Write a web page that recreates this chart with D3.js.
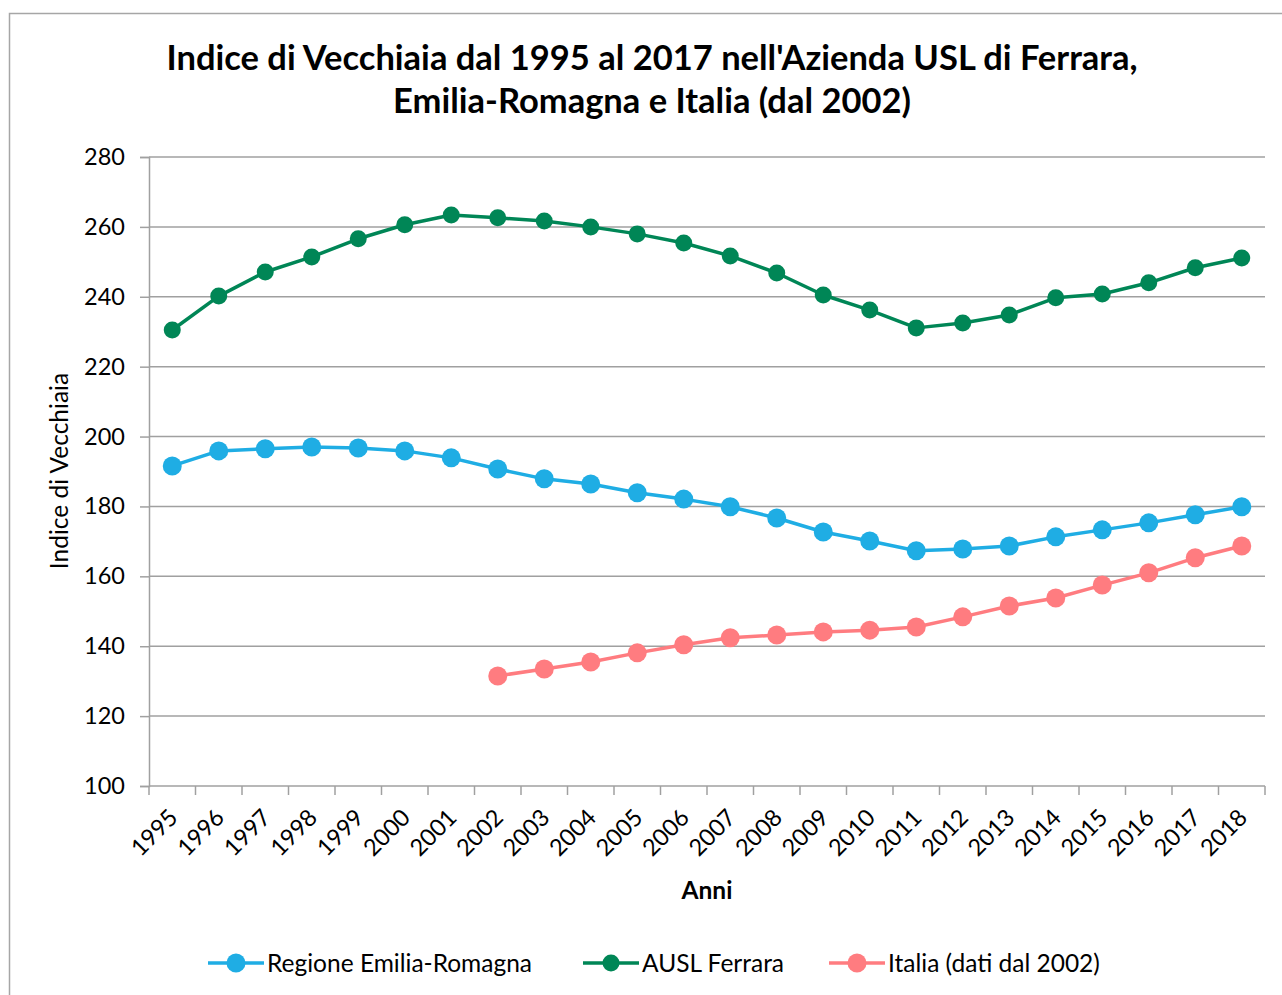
<!DOCTYPE html>
<html>
<head>
<meta charset="utf-8">
<script src="https://cdn.jsdelivr.net/npm/d3@7"></script>
<style>
  body { margin: 0; background: #fff; }
  svg { display: block; font-family: Lato, "Open Sans", sans-serif; }
</style>
</head>
<body>
<svg id="chart"></svg>
<script>
// years on the category axis
const years = ["1995","1996","1997","1998","1999","2000","2001","2002","2003","2004","2005","2006",
               "2007","2008","2009","2010","2011","2012","2013","2014","2015","2016","2017","2018"];

// Regione Emilia-Romagna
const emiliaRomagna = [191.6, 195.9, 196.5, 197.0, 196.7, 195.9, 193.9, 190.7, 187.9, 186.4, 183.9, 182.1,
                       179.9, 176.7, 172.7, 170.1, 167.3, 167.8, 168.7, 171.3, 173.3, 175.3, 177.6, 179.9];

// AUSL Ferrara
const auslFerrara = [230.5, 240.2, 247.1, 251.4, 256.6, 260.6, 263.4, 262.6, 261.7, 260.0, 258.0, 255.4,
                     251.7, 246.8, 240.5, 236.2, 231.1, 232.5, 234.8, 239.7, 240.8, 244.0, 248.3, 251.1];

// Italia, only from 2002 (null before)
const italia = [null, null, null, null, null, null, null, 131.5, 133.5, 135.5, 138.1, 140.4,
                142.4, 143.2, 144.1, 144.6, 145.5, 148.4, 151.5, 153.8, 157.5, 161.0, 165.3, 168.7];

const yTicks = [100, 120, 140, 160, 180, 200, 220, 240, 260, 280];

const seriesNames = ["Regione Emilia-Romagna", "AUSL Ferrara", "Italia (dati dal 2002)"];
const seriesColors = ["#1fade4", "#008656", "#ff7c80"];

const titleLines = ["Indice di Vecchiaia dal 1995 al 2017 nell'Azienda USL di Ferrara,",
                    "Emilia-Romagna e Italia (dal 2002)"];

document.addEventListener("DOMContentLoaded", () => {
    drawChart();
});

function drawChart() {
    let svgWidth = 1282, svgHeight = 995;
    let margin = { top: 157, right: 17, bottom: 209, left: 149 };
    let width = svgWidth - margin.left - margin.right;
    let height = svgHeight - margin.top - margin.bottom;

    let svg = d3.select("#chart")
        .attr("width", svgWidth)
        .attr("height", svgHeight);

    // outer chart frame (runs off the picture right and bottom)
    svg.append("rect")
        .attr("x", 9.5).attr("y", 13.5)
        .attr("width", 1300).attr("height", 1000)
        .attr("fill", "#fff")
        .attr("stroke", "#a6a6a6")
        .attr("stroke-width", 1.5);

    // title
    svg.append("text")
        .attr("x", 652).attr("y", 70)
        .attr("text-anchor", "middle")
        .attr("font-size", 34.5).attr("font-weight", "bold")
        .selectAll("tspan")
        .data(titleLines)
        .enter().append("tspan")
        .attr("x", 652)
        .attr("dy", (d, i) => i === 0 ? 0 : 43)
        .text(d => d);

    let g = svg.append("g")
        .attr("transform", "translate(" + margin.left + "," + margin.top + ")");

    let x = d3.scaleBand()
        .domain(years)
        .range([0, width]);

    let y = d3.scaleLinear()
        .domain([100, 280])
        .range([height, 0]);

    // horizontal gridlines
    g.append("g")
        .selectAll("line")
        .data(yTicks.slice(1))
        .enter().append("line")
        .attr("x1", 0).attr("x2", width)
        .attr("y1", d => y(d)).attr("y2", d => y(d))
        .attr("stroke", "#a0a0a0")
        .attr("stroke-width", 1.5);

    // y axis
    let yAxis = g.append("g")
        .call(d3.axisLeft(y).tickValues(yTicks).tickSize(9).tickPadding(15));
    yAxis.select(".domain").attr("stroke", "#a0a0a0").attr("stroke-width", 1.5);
    yAxis.selectAll(".tick line").attr("stroke", "#a0a0a0").attr("stroke-width", 1.5);
    yAxis.selectAll(".tick text")
        .attr("font-size", 23.5)
        .attr("font-family", "Lato, sans-serif")
        .attr("fill", "#000");

    // x axis: ticks at band boundaries, labels at band centers
    let xg = g.append("g")
        .attr("transform", "translate(0," + height + ")");
    xg.append("line")
        .attr("x1", 0).attr("x2", width)
        .attr("stroke", "#a0a0a0").attr("stroke-width", 1.5);
    xg.selectAll("line.tk")
        .data(d3.range(years.length + 1))
        .enter().append("line")
        .attr("class", "tk")
        .attr("x1", i => i * x.step()).attr("x2", i => i * x.step())
        .attr("y1", 0).attr("y2", 9)
        .attr("stroke", "#a0a0a0").attr("stroke-width", 1.5);
    xg.selectAll("text")
        .data(years)
        .enter().append("text")
        .attr("transform", d => "translate(" + (x(d) + x.bandwidth() / 2 + 7) + ",33) rotate(-45)")
        .attr("text-anchor", "end")
        .attr("font-size", 23.5)
        .attr("fill", "#000")
        .text(d => d);

    // axis titles
    svg.append("text")
        .attr("x", 707).attr("y", 899)
        .attr("text-anchor", "middle")
        .attr("font-size", 24.5).attr("font-weight", "bold")
        .text("Anni");

    svg.append("text")
        .attr("transform", "translate(68,471) rotate(-90)")
        .attr("text-anchor", "middle")
        .attr("font-size", 24.5)
        .text("Indice di Vecchiaia");

    // series lines and markers
    let allSeries = [emiliaRomagna, auslFerrara, italia];
    let radii = [9.5, 8.5, 9.5];

    let line = d3.line()
        .defined(d => d != null)
        .x((d, i) => x(years[i]) + x.bandwidth() / 2)
        .y(d => y(d));

    allSeries.forEach((values, s) => {
        g.append("path")
            .datum(values)
            .attr("fill", "none")
            .attr("stroke", seriesColors[s])
            .attr("stroke-width", 3.5)
            .attr("stroke-linejoin", "round")
            .attr("d", line);

        g.append("g")
            .selectAll("circle")
            .data(values.map((v, i) => ({ year: years[i], value: v })).filter(d => d.value != null))
            .enter().append("circle")
            .attr("cx", d => x(d.year) + x.bandwidth() / 2)
            .attr("cy", d => y(d.value))
            .attr("r", radii[s])
            .attr("fill", seriesColors[s]);
    });

    // legend
    let legendX = [208, 583, 829];
    let legend = svg.append("g");
    seriesNames.forEach((name, s) => {
        let lg = legend.append("g")
            .attr("transform", "translate(" + legendX[s] + ",963)");
        lg.append("line")
            .attr("x1", 0).attr("x2", 56)
            .attr("stroke", seriesColors[s]).attr("stroke-width", 3.5);
        lg.append("circle")
            .attr("cx", 28).attr("r", radii[s])
            .attr("fill", seriesColors[s]);
        lg.append("text")
            .attr("x", 59).attr("y", 9)
            .attr("font-size", 24.5)
            .text(name);
    });
}
</script>
</body>
</html>
